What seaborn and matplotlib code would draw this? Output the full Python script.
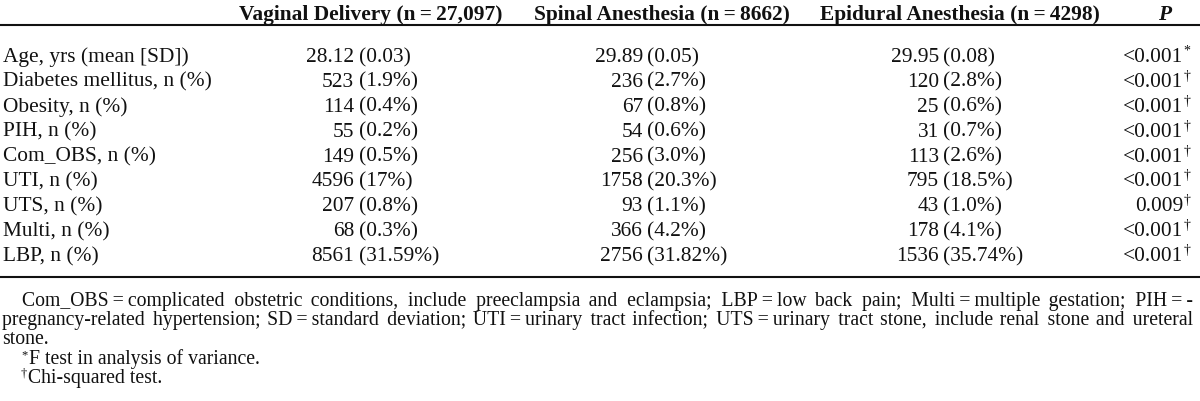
import matplotlib
matplotlib.use("Agg")
import matplotlib.pyplot as plt
import seaborn as sns

# ---------------- data ----------------
col_headers = ["Vaginal Delivery (n\u2009=\u200927,097)",
               "Spinal Anesthesia (n\u2009=\u20098662)",
               "Epidural Anesthesia (n\u2009=\u20094298)"]
p_header = "P"

row_labels = ["Age, yrs (mean [SD])", "Diabetes mellitus, n (%)", "Obesity, n (%)",
              "PIH, n (%)", "Com_OBS, n (%)", "UTI, n (%)", "UTS, n (%)",
              "Multi, n (%)", "LBP, n (%)"]

vaginal_main = ["28.12", "523", "114", "55", "149", "4596", "207", "68", "8561"]
vaginal_paren = ["(0.03)", "(1.9%)", "(0.4%)", "(0.2%)", "(0.5%)", "(17%)",
                 "(0.8%)", "(0.3%)", "(31.59%)"]
spinal_main = ["29.89", "236", "67", "54", "256", "1758", "93", "366", "2756"]
spinal_paren = ["(0.05)", "(2.7%)", "(0.8%)", "(0.6%)", "(3.0%)", "(20.3%)",
                "(1.1%)", "(4.2%)", "(31.82%)"]
epidural_main = ["29.95", "120", "25", "31", "113", "795", "43", "178", "1536"]
epidural_paren = ["(0.08)", "(2.8%)", "(0.6%)", "(0.7%)", "(2.6%)", "(18.5%)",
                  "(1.0%)", "(4.1%)", "(35.74%)"]
p_values = ["<0.001", "<0.001", "<0.001", "<0.001", "<0.001", "<0.001",
            "0.009", "<0.001", "<0.001"]
p_marks = ["*", "\u2020", "\u2020", "\u2020", "\u2020", "\u2020", "\u2020", "\u2020", "\u2020"]

footnote_line1 = ("Com_OBS\u2009=\u2009complicated obstetric conditions, include preeclampsia and "
                  "eclampsia; LBP\u2009=\u2009low back pain; Multi\u2009=\u2009multiple gestation; "
                  "PIH\u2009=\u2009-")
footnote_line2 = ("pregnancy-related hypertension; SD\u2009=\u2009standard deviation; "
                  "UTI\u2009=\u2009urinary tract infection; UTS\u2009=\u2009urinary tract stone, "
                  "include renal stone and ureteral")
footnote_line3 = "stone."
footnote_marks = ["*", "\u2020"]
footnote_notes = ["F test in analysis of variance.", "Chi-squared test."]

# ---------------- style ----------------
sns.set_theme(style="white")
plt.rcParams["font.family"] = ["Liberation Serif", "DejaVu Serif"]

W, H = 1200, 402
fig = plt.figure(figsize=(W / 100, H / 100), dpi=100)
ax = fig.add_axes([0, 0, 1, 1])
ax.set_xlim(0, W)
ax.set_ylim(H, 0)
ax.axis("off")

body_fs = 15.4
foot_fs = 14.2
sup_fs = 9
ink = "#111111"

# header
header_base = 20
header_centers = [371, 662, 960]
for cx, h in zip(header_centers, col_headers):
    ax.text(cx, header_base, h, ha="center", va="baseline", fontsize=body_fs,
            fontweight="bold", color=ink)
ax.text(1165, header_base, p_header, ha="center", va="baseline", fontsize=body_fs,
        fontweight="bold", fontstyle="italic", color=ink)

# rules
ax.plot([0, W], [26, 26], color=ink, lw=1.5, solid_capstyle="butt")
ax.plot([0, W], [278, 278], color=ink, lw=1.5, solid_capstyle="butt")

# body rows
row_base0 = 62
row_pitch = 24.9
split_x = [354, 643, 939]
columns = [(vaginal_main, vaginal_paren), (spinal_main, spinal_paren),
           (epidural_main, epidural_paren)]
p_right = 1183
for i, lab in enumerate(row_labels):
    y = row_base0 + i * row_pitch
    ax.text(3, y, lab, ha="left", va="baseline", fontsize=body_fs, color=ink)
    for sx, (mains, parens) in zip(split_x, columns):
        ax.text(sx, y, mains[i], ha="right", va="baseline", fontsize=body_fs, color=ink)
        ax.text(sx + 4.5, y, parens[i], ha="left", va="baseline", fontsize=body_fs, color=ink)
    ax.text(p_right, y, p_values[i], ha="right", va="baseline", fontsize=body_fs, color=ink)
    ax.text(p_right + 0.3, y - 7, p_marks[i], ha="left", va="baseline", fontsize=10, color=ink)

# footnotes
foot_base = [306, 325, 344, 364, 383]

fig.canvas.draw()
renderer = fig.canvas.get_renderer()


def measure(s):
    t = ax.text(0, 0, s, fontsize=foot_fs)
    w = t.get_window_extent(renderer).width
    t.remove()
    return w


def justified_string(text, width):
    words = text.split(" ")
    base = measure("aa")
    space_w = measure("a a") - base
    hair_w = measure("a\u200aa") - base
    filler = "\u200a"
    if hair_w < 0.5:
        hair_w = measure("a\u2009a") - base
        filler = "\u2009"
    natural = measure("".join(words))
    n_gaps = len(words) - 1
    gap = (width - natural) / n_gaps
    out = words[0]
    carry = 0.0
    for w in words[1:]:
        want = gap + carry
        n_sp = max(1, int(want // space_w)) if want >= space_w else 1
        rest = want - n_sp * space_w
        n_h = max(0, int(round(rest / hair_w)))
        carry = want - (n_sp * space_w + n_h * hair_w)
        out += " " * n_sp + filler * n_h + w
    return out


ax.text(22, foot_base[0], justified_string(footnote_line1, 1193 - 22), ha="left",
        va="baseline", fontsize=foot_fs, color=ink)
ax.text(2, foot_base[1], justified_string(footnote_line2, 1193 - 2), ha="left",
        va="baseline", fontsize=foot_fs, color=ink)
ax.text(2, foot_base[2], footnote_line3, ha="left", va="baseline", fontsize=foot_fs, color=ink)
for k, (m, note) in enumerate(zip(footnote_marks, footnote_notes)):
    y = foot_base[3 + k]
    ax.text(21, y - 6, m, ha="left", va="baseline", fontsize=sup_fs, color=ink)
    ax.text(29 if k == 0 else 28, y, note, ha="left", va="baseline", fontsize=foot_fs, color=ink)

fig.savefig("out.png", dpi=100, facecolor="white")
